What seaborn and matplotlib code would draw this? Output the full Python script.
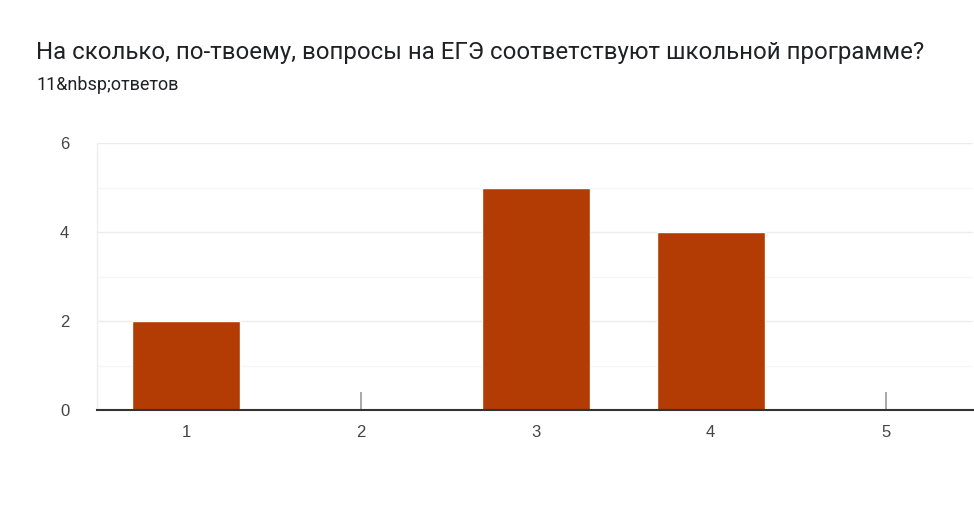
import numpy as np
import pandas as pd
import matplotlib
matplotlib.use("Agg")
import matplotlib.pyplot as plt
import seaborn as sns

# chart data
categories = ["1", "2", "3", "4", "5"]
counts = [2, 0, 5, 4, 0]
y_ticks = [0, 2, 4, 6]

title = "На сколько, по-твоему, вопросы на ЕГЭ соответствуют школьной программе?"
subtitle = "11&nbsp;ответов"

df = pd.DataFrame({"answer": categories, "count": counts})

sns.set_theme(style="white")
plt.rcParams["font.family"] = ["Roboto", "DejaVu Sans"]

fig = plt.figure(figsize=(9.74, 5.25), dpi=100)
ax = fig.add_axes([0.0996, 0.219, 0.8994, 0.5086])

sns.barplot(data=df, x="answer", y="count", color="#b33c04",
            width=0.62, saturation=1, ax=ax, zorder=3)

# small markers for zero answers
zero_pos = [i for i, c in enumerate(counts) if c == 0]
ax.vlines(zero_pos, 0, 0.4, color="#999999", linewidth=1.2, zorder=3)

ax.set_xlim(-0.51, 4.5)
ax.set_ylim(0, 6)
ax.set_yticks(y_ticks)
ax.set_yticks([1, 3, 5], minor=True)
ax.grid(axis="y", which="major", color="#ececec", linewidth=1, zorder=0)
ax.grid(axis="y", which="minor", color="#f6f6f6", linewidth=1, zorder=0)
ax.set_axisbelow(True)

ax.set_xlabel("")
ax.set_ylabel("")
ax.tick_params(axis="both", length=0, labelsize=12, labelcolor="#444444")
ax.tick_params(axis="y", pad=20)
ax.tick_params(axis="x", pad=11)
for lab in ax.get_xticklabels() + ax.get_yticklabels():
    lab.set_fontfamily(["Liberation Sans", "DejaVu Sans"])

for s in ["top", "right"]:
    ax.spines[s].set_visible(False)
ax.spines["left"].set_color("#eeeeee")
ax.spines["left"].set_linewidth(1)
ax.spines["bottom"].set_color("#333333")
ax.spines["bottom"].set_linewidth(1.5)
ax.spines["bottom"].set_zorder(4)

fig.text(36 / 974, 1 - 59 / 525, title, fontsize=17.3, color="#202124",
         va="baseline", ha="left")
fig.text(36 / 974, 1 - 90 / 525, subtitle, fontsize=13, color="#202124",
         va="baseline", ha="left")

fig.savefig("out.png", dpi=100)
